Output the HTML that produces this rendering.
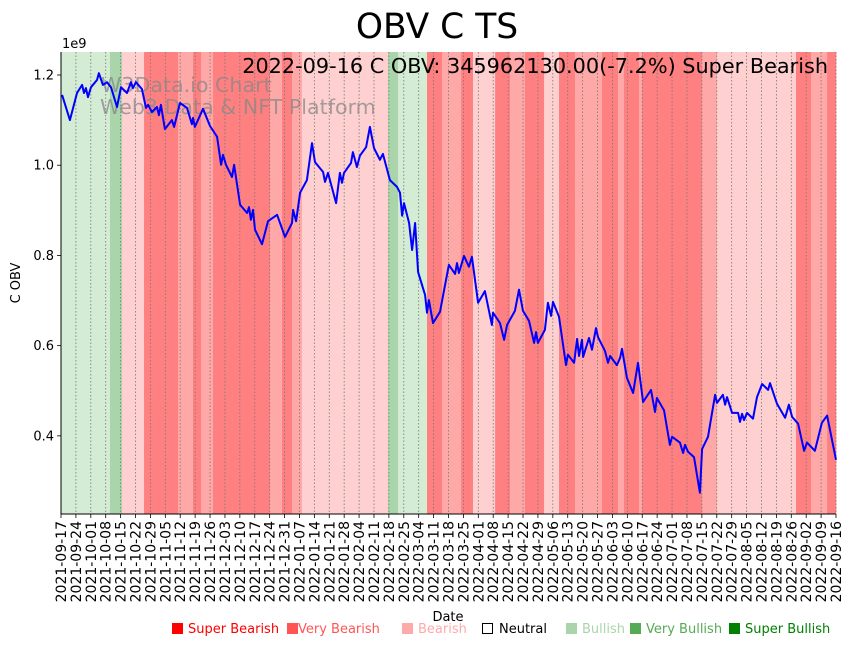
<!DOCTYPE html>
<html><head><meta charset="utf-8"><style>
body{margin:0;background:#fff;}
svg{display:block;font-family:"DejaVu Sans","Liberation Sans",sans-serif;}
</style></head><body>
<svg id="chart" width="853" height="646" viewBox="0 0 853 646">
<text x="437" y="38" font-size="34.5" text-anchor="middle">OBV C TS</text>
<g id="bands"></g>
<g id="grid"></g>
<text x="101" y="92" font-size="20.6" fill="#888" opacity="0.75">W3Data.io Chart</text>
<text x="100" y="114" font-size="20.6" fill="#888" opacity="0.75">Web3 Data &amp; NFT Platform</text>
<g id="series"></g>
<text x="828" y="73" font-size="20.8" text-anchor="end">2022-09-16 C OBV: 345962130.00(-7.2%) Super Bearish</text>
<g id="axes"></g>
<text x="62" y="48" font-size="13">1e9</text>
<text transform="translate(20,283) rotate(-90)" font-size="13" text-anchor="middle">C OBV</text>
<text x="448" y="621" font-size="13" text-anchor="middle">Date</text>
<g id="legend" font-size="13">
<g><rect x="172" y="623" width="11" height="11" fill="#ff0000"/><text x="188" y="633" fill="#ff0000">Super Bearish</text></g>
<g><rect x="287" y="623" width="11" height="11" fill="#ff5555"/><text x="298" y="633" fill="#ff5555">Very Bearish</text></g>
<g><rect x="402" y="623" width="11" height="11" fill="#ffaaaa"/><text x="418" y="633" fill="#ffaaaa">Bearish</text></g>
<g><rect x="482.5" y="623.5" width="10" height="10" fill="none" stroke="#000"/><text x="499" y="633" fill="#000">Neutral</text></g>
<g><rect x="566" y="623" width="11" height="11" fill="#aad5aa"/><text x="582" y="633" fill="#aad5aa">Bullish</text></g>
<g><rect x="630" y="623" width="11" height="11" fill="#55aa55"/><text x="646" y="633" fill="#55aa55">Very Bullish</text></g>
<g><rect x="729" y="623" width="11" height="11" fill="#008000"/><text x="745" y="633" fill="#008000">Super Bullish</text></g>
</g>
</svg>
<script>
// data
const bandStart=[0,23,28.7,39,55,62,65.8,71.4,98.2,103.8,108.5,113.2,153.6,158.3,171.9,179,187.9,193.5,203.9,210.9,217.9,226.9,233.9,241.4,254.1,261.6,264.4,271.5,272.9,301.1,308.1,345.2,352.3,359.8];
const bandEnd=[23,28.7,39,55,62,65.8,71.4,98.2,103.8,108.5,113.2,153.6,158.3,171.9,179,187.9,193.5,203.9,210.9,217.9,226.9,233.9,241.4,254.1,261.6,264.4,271.5,272.9,301.1,308.1,345.2,352.3,359.8,364];
const bandState=["lg","dg","lp","r","p","r","p","r","p","r","p","lp","dg","lg","r","p","r","lp","r","p","r","lp","r","p","r","p","r","p","r","p","lp","r","p","r"];
const days=[0.5,4.2,7.5,9.9,10.8,11.7,12.7,14.1,16.9,17.8,19.7,21.6,23.5,26.3,28.2,31,32.9,33.8,35.2,38,39.9,40.9,42.7,45.1,46,46.9,48.8,52.1,53.1,55.9,59.2,61.5,62,62.9,66.7,70,73.3,75.2,76.1,77.5,80.3,81.3,84.1,87.4,88.3,89.2,90.2,91.1,94.4,97.2,101.5,105.2,108.5,109,110.4,112.3,115.5,117.9,119.3,123.1,124,125.4,129.2,131,132,132.9,136.2,137.1,139,140.4,143.3,145.1,147,149.8,151.2,154.5,157.8,159.2,160.2,161.1,163.5,164.9,166.3,167.7,171,171.9,172.8,174.7,178,180.4,182.2,185.1,186,186.9,189.3,191.6,193,195.9,199.1,202.4,202.9,206.2,208.1,209.5,213.2,215.1,217,219.8,222.2,223.1,224,227.3,228.7,230.2,231.1,233.9,237.2,238.1,241,242.4,243.3,244.7,245.2,248,249.4,251.3,252.2,255.5,256.9,257.9,261.1,262.6,263.5,265.8,268.7,271,273.4,277.1,279,279.9,283.2,286,287,290.7,292.2,293.1,294.5,297.3,300.1,301.1,303.9,307.2,308.1,310.9,311.9,312.8,315.2,318,318.9,319.9,320.8,322.2,325,326.9,329.3,332.1,333,336.3,340.1,341.9,343.4,346.2,349,350.4,354.1,357.4,359.8,364];
const obv=[1.156,1.100,1.160,1.178,1.160,1.171,1.151,1.173,1.189,1.204,1.178,1.184,1.173,1.129,1.173,1.160,1.184,1.171,1.184,1.169,1.127,1.134,1.118,1.129,1.111,1.134,1.080,1.100,1.085,1.138,1.127,1.091,1.105,1.085,1.125,1.087,1.063,1.001,1.023,1.001,0.974,1.001,0.912,0.894,0.907,0.879,0.901,0.857,0.825,0.876,0.890,0.841,0.872,0.901,0.876,0.939,0.967,1.049,1.007,0.985,0.963,0.983,0.916,0.983,0.961,0.983,1.005,1.029,0.996,1.021,1.040,1.085,1.038,1.012,1.025,0.967,0.952,0.939,0.888,0.916,0.872,0.812,0.872,0.763,0.712,0.673,0.701,0.650,0.675,0.735,0.779,0.759,0.783,0.761,0.799,0.775,0.797,0.695,0.721,0.646,0.673,0.650,0.613,0.646,0.677,0.724,0.677,0.655,0.606,0.630,0.606,0.635,0.695,0.666,0.697,0.664,0.557,0.580,0.562,0.615,0.577,0.613,0.575,0.617,0.591,0.639,0.619,0.588,0.562,0.577,0.557,0.573,0.593,0.529,0.495,0.562,0.475,0.502,0.453,0.484,0.457,0.380,0.398,0.385,0.362,0.380,0.365,0.353,0.274,0.371,0.398,0.491,0.473,0.491,0.469,0.486,0.451,0.451,0.431,0.449,0.435,0.451,0.438,0.486,0.515,0.502,0.517,0.471,0.440,0.469,0.442,0.427,0.367,0.385,0.367,0.429,0.445,0.347];
const yTicks=[0.4,0.6,0.8,1.0,1.2];
const yTickLabels=["0.4","0.6","0.8","1.0","1.2"];

const X0=61,X1=836,Y0=52,Y1=514,DAYS=364,VMIN=0.2268,VMAX=1.251;
const xs=d=>X0+(X1-X0)*d/DAYS;
const ys=v=>Y1-(Y1-Y0)*(v-VMIN)/(VMAX-VMIN);
const NS="http://www.w3.org/2000/svg";
function mk(tag,attrs,parent){const e=document.createElementNS(NS,tag);for(const k in attrs)e.setAttribute(k,attrs[k]);parent.appendChild(e);return e;}
const colors={lg:"#d4ebd4",dg:"#aad5aa",lp:"#ffd0d0",p:"#ffa8a8",r:"#ff8080"};
const bands=document.getElementById('bands');
for(let i=0;i<bandStart.length;i++){
  const r=mk('rect',{x:xs(bandStart[i]),y:Y0,width:xs(bandEnd[i])-xs(bandStart[i])+0.3,height:Y1-Y0,fill:colors[bandState[i]]},bands);
  
  
}
const grid=document.getElementById('grid'),axes=document.getElementById('axes');
const start=new Date(Date.UTC(2021,8,17));
for(let k=0;k<=52;k++){
  const d=k*7,x=xs(d);
  const gl=mk('line',{x1:x,x2:x,y1:Y0,y2:Y1,stroke:"#777","stroke-width":0.8,"stroke-dasharray":"1.5,2"},grid);
  
  
  mk('line',{x1:x,x2:x,y1:Y1,y2:Y1+4,stroke:"#000","stroke-width":0.8},axes);
  const dt=new Date(start.getTime()+d*86400000);
  const lbl=dt.toISOString().slice(0,10);
  const t=mk('text',{transform:`translate(${x+5},${Y1+7}) rotate(-90)`,"font-size":14,"text-anchor":"end"},axes);
  t.textContent=lbl;
  
  
}
yTicks.forEach((v,i)=>{
  const y=ys(v);
  mk('line',{x1:X0-4,x2:X0,y1:y,y2:y,stroke:"#000","stroke-width":0.8},axes);
  const t=mk('text',{x:X0-7,y:y+4.5,"font-size":13,"text-anchor":"end"},axes);
  t.textContent=yTickLabels[i];
  
  
});
mk('line',{x1:X0,x2:X0,y1:Y0,y2:Y1,stroke:"#000","stroke-width":1},axes);
mk('line',{x1:X0,x2:X1,y1:Y1,y2:Y1,stroke:"#000","stroke-width":1},axes);
const series=document.getElementById('series');
const pts=days.map((d,i)=>xs(d).toFixed(1)+","+ys(obv[i]).toFixed(1)).join(" ");
const pl=mk('polyline',{points:pts,fill:"none",stroke:"#0000ff","stroke-width":2,"stroke-linejoin":"round"},series);


</script>
</body></html>
